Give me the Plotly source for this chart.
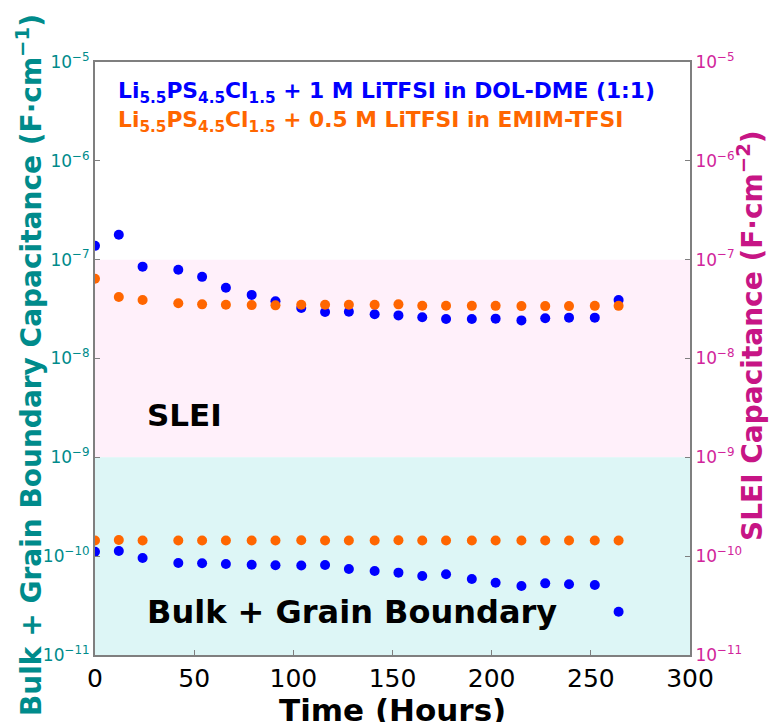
import plotly.graph_objects as go

time_h = [0, 12, 24, 42, 54, 66, 79, 91, 104, 116, 128, 141, 153, 165, 177, 190, 202, 215, 227, 239, 252, 264]

# SLEI capacitance (F/cm^2), right axis
slei_dol = [1.38e-7, 1.79e-7, 8.5e-8, 7.9e-8, 6.7e-8, 5.2e-8, 4.4e-8, 3.8e-8, 3.24e-8, 2.95e-8, 2.97e-8,
            2.8e-8, 2.73e-8, 2.61e-8, 2.51e-8, 2.51e-8, 2.53e-8, 2.43e-8, 2.55e-8, 2.59e-8, 2.59e-8, 3.91e-8]
slei_emim = [6.4e-8, 4.19e-8, 3.91e-8, 3.62e-8, 3.53e-8, 3.5e-8, 3.47e-8, 3.45e-8, 3.5e-8, 3.5e-8, 3.5e-8,
             3.5e-8, 3.53e-8, 3.42e-8, 3.42e-8, 3.41e-8, 3.41e-8, 3.39e-8, 3.39e-8, 3.39e-8, 3.41e-8, 3.41e-8]

# Bulk + grain boundary capacitance (F/cm), left axis
bulk_dol = [1.11e-10, 1.13e-10, 9.58e-11, 8.53e-11, 8.47e-11, 8.34e-11, 8.2e-11, 8.1e-11, 8.05e-11, 8.15e-11,
            7.41e-11, 7.08e-11, 6.81e-11, 6.3e-11, 6.55e-11, 5.87e-11, 5.39e-11, 4.99e-11, 5.31e-11, 5.2e-11,
            5.1e-11, 2.74e-11]
bulk_emim = [1.44e-10, 1.46e-10, 1.44e-10, 1.44e-10, 1.44e-10, 1.44e-10, 1.44e-10, 1.44e-10, 1.45e-10, 1.44e-10,
             1.44e-10, 1.44e-10, 1.45e-10, 1.44e-10, 1.44e-10, 1.44e-10, 1.44e-10, 1.44e-10, 1.44e-10, 1.44e-10,
             1.44e-10, 1.44e-10]

legend_labels = ["Li<sub>5.5</sub>PS<sub>4.5</sub>Cl<sub>1.5</sub> + 1 M LiTFSI in DOL-DME (1:1)",
                 "Li<sub>5.5</sub>PS<sub>4.5</sub>Cl<sub>1.5</sub> + 0.5 M LiTFSI in EMIM-TFSI"]
left_title = "Bulk + Grain Boundary Capacitance (F\u00b7cm<sup>\u22121</sup>)"
right_title = "SLEI Capacitance (F\u00b7cm<sup>\u22122</sup>)"
x_title = "Time (Hours)"
y_tickvals = [1e-11, 1e-10, 1e-9, 1e-8, 1e-7, 1e-6, 1e-5]
y_ticktext = ["10<sup>\u221211</sup>", "10<sup>\u221210</sup>", "10<sup>\u22129</sup>", "10<sup>\u22128</sup>",
              "10<sup>\u22127</sup>", "10<sup>\u22126</sup>", "10<sup>\u22125</sup>"]
x_tickvals = [0, 50, 100, 150, 200, 250, 300]

BLUE = "#0000ff"
ORANGE = "#ff6600"
TEAL = "#008b8b"
MAG = "#c71585"
MAGT = "#d1259b"
FRAME = "#7f7f7f"
FONT = "DejaVu Sans"

W, H = 769, 722
PL, PR, PT, PB = 95, 690, 62, 655


def px_to_paper(px, py):
    return (px - PL) / (PR - PL), (PB - py) / (PB - PT)


fig = go.Figure()
mk = dict(size=10, line=dict(width=0))
fig.add_trace(go.Scatter(x=time_h, y=bulk_emim, mode="markers", marker=dict(color=ORANGE, **mk), yaxis="y", showlegend=False))
fig.add_trace(go.Scatter(x=time_h, y=bulk_dol, mode="markers", marker=dict(color=BLUE, **mk), yaxis="y", showlegend=False))
fig.add_trace(go.Scatter(x=time_h, y=slei_dol, mode="markers", marker=dict(color=BLUE, **mk), yaxis="y2", showlegend=False))
fig.add_trace(go.Scatter(x=time_h, y=slei_emim, mode="markers", marker=dict(color=ORANGE, **mk), yaxis="y2", showlegend=False))

fig.add_shape(type="rect", xref="paper", yref="y", x0=0, x1=1, y0=1e-9, y1=1e-7,
              fillcolor="#fff0fa", line=dict(width=0), layer="below")
fig.add_shape(type="rect", xref="paper", yref="y", x0=0, x1=1, y0=1e-11, y1=1e-9,
              fillcolor="#ddf6f6", line=dict(width=0), layer="below")

for lbl, col, (px, py) in zip(legend_labels, [BLUE, ORANGE], [(116, 92), (116, 121)]):
    ax, ay = px_to_paper(px, py)
    fig.add_annotation(x=ax, y=ay, xref="paper", yref="paper", xanchor="left", yanchor="middle",
                       text="<b>" + lbl + "</b>", showarrow=False,
                       font=dict(family=FONT, size=21.8, color=col))

fig.add_annotation(x=25, y=-8.57, xref="x", yref="y", xanchor="left", yanchor="middle",
                   text="<b>SLEI</b>", showarrow=False, font=dict(family=FONT, size=31, color="black"))
fig.add_annotation(x=25, y=-10.565, xref="x", yref="y", xanchor="left", yanchor="middle",
                   text="<b>Bulk + Grain Boundary</b>", showarrow=False, font=dict(family=FONT, size=32, color="black"))

# axis titles
lx, ly = px_to_paper(30, 365)
fig.add_annotation(x=lx, y=ly, xref="paper", yref="paper", xanchor="center", yanchor="middle",
                   text="<b>" + left_title + "</b>", textangle=-90, showarrow=False,
                   font=dict(family=FONT, size=28, color=TEAL))
rx, ry = px_to_paper(750, 336)
fig.add_annotation(x=rx, y=ry, xref="paper", yref="paper", xanchor="center", yanchor="middle",
                   text="<b>" + right_title + "</b>", textangle=-90, showarrow=False,
                   font=dict(family=FONT, size=28, color=MAG))
tx, ty = px_to_paper(392, 690)
fig.add_annotation(x=tx, y=ty, xref="paper", yref="paper", xanchor="center", yanchor="top",
                   text="<b>" + x_title + "</b>", showarrow=False,
                   font=dict(family=FONT, size=31, color="black"))

fig.update_layout(
    width=W, height=H,
    margin=dict(l=PL, r=W - PR, t=PT, b=H - PB),
    paper_bgcolor="white", plot_bgcolor="white",
    font=dict(family=FONT),
    xaxis=dict(range=[0, 300], tickvals=x_tickvals, ticks="inside", ticklen=5, tickcolor=FRAME,
               showline=True, linecolor=FRAME, linewidth=2, mirror=True, showgrid=False, zeroline=False,
               automargin=False, tickfont=dict(size=25, color="black")),
    yaxis=dict(type="log", range=[-11, -5], tickvals=y_tickvals, ticktext=y_ticktext, ticks="inside",
               ticklen=5, tickcolor=FRAME, showline=True, linecolor=FRAME, linewidth=2, showgrid=False,
               zeroline=False, automargin=False, tickfont=dict(size=17, color=TEAL)),
    yaxis2=dict(type="log", range=[-11, -5], overlaying="y", side="right", tickvals=y_tickvals,
                ticktext=y_ticktext, ticks="inside", ticklen=5, tickcolor=FRAME, showline=True,
                linecolor=FRAME, linewidth=2, showgrid=False, zeroline=False, automargin=False,
                tickfont=dict(size=17, color=MAGT)),
)

fig.write_html("out.html", config={"displayModeBar": False},
               post_script="document.body.style.margin='0';document.body.style.overflow='hidden';")
